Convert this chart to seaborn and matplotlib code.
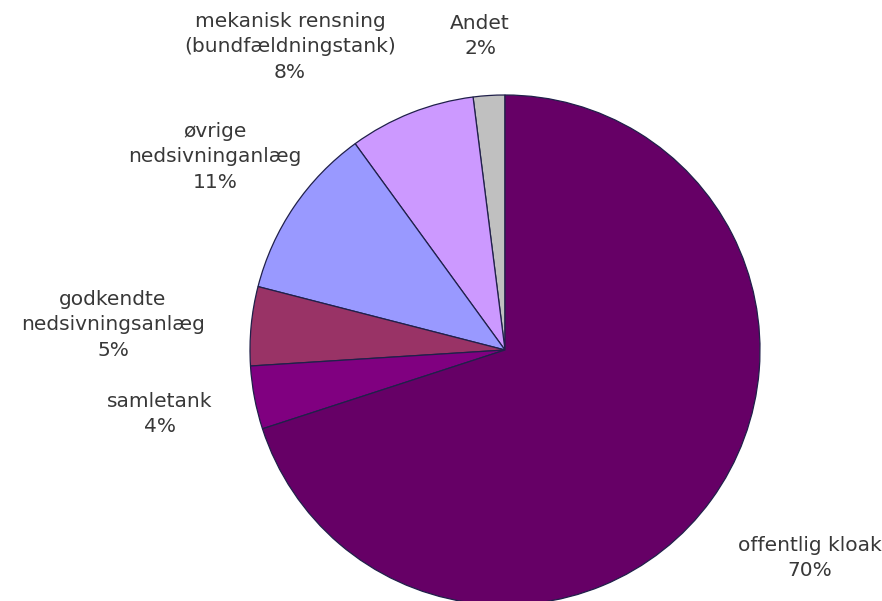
## pie chart: fordeling af spildevandsafledning
import matplotlib
matplotlib.use("Agg")
import matplotlib.pyplot as plt
import seaborn as sns

## data (counterclockwise from 12 o'clock)
categories = ["Andet", "mekanisk rensning\n(bundfældningstank)", "øvrige\nnedsivninganlæg",
              "godkendte\nnedsivningsanlæg", "samletank", "offentlig kloak"]
shares = [2, 8, 11, 5, 4, 70]
slice_colors = ["#c0c0c0", "#cc99ff", "#9999ff", "#993366", "#800080", "#660066"]

## label anchors in pixels (layout only)
label_px = [(480, 36), (290, 47), (215, 157), (113, 325), (160, 414), (810, 558)]

sns.set_theme(style="white")
plt.rcParams["font.family"] = ["DejaVu Sans"]

W, H = 882, 601
cx, cy, r = 505, 350, 255

fig = plt.figure(figsize=(W / 100, H / 100), dpi=100)
ax = fig.add_axes([0, 0, 1, 1])
ax.pie(shares, colors=sns.color_palette(slice_colors), startangle=90, counterclock=True,
       radius=1, center=(0, 0),
       wedgeprops=dict(edgecolor="#20204a", linewidth=0.9))
ax.set_xlim(-cx / r, (W - cx) / r)
ax.set_ylim(-(H - cy) / r, cy / r)
ax.axis("off")

for cat, val, (px, py) in zip(categories, shares, label_px):
    ax.text((px - cx) / r, (cy - py) / r, "{}\n{}%".format(cat, val),
            ha="center", va="center", fontsize=14.5, color="#383838",
            linespacing=1.42)

fig.savefig("out.png", dpi=100)
